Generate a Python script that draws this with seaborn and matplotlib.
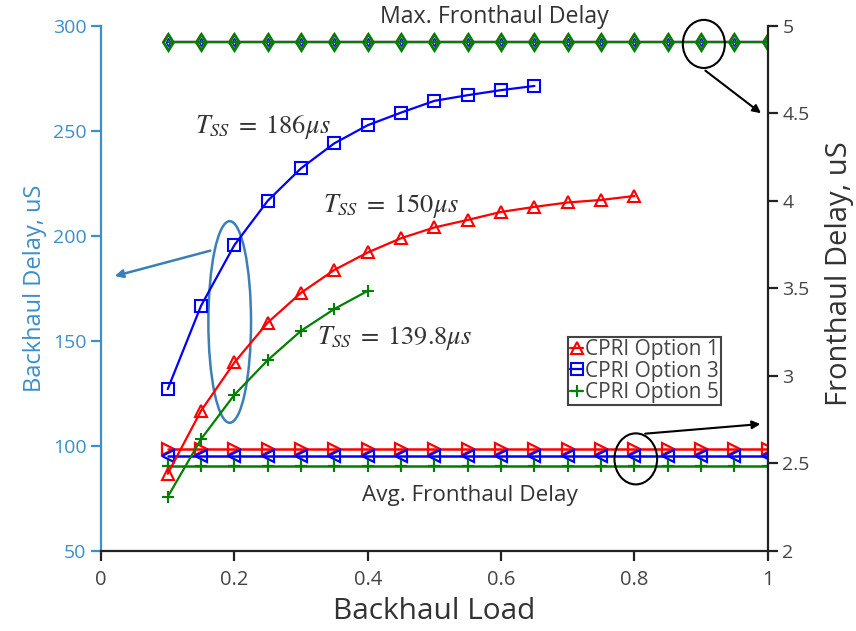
import numpy as np
import pandas as pd
import matplotlib
matplotlib.use("Agg")
import matplotlib.pyplot as plt
import seaborn as sns
from matplotlib.patches import Ellipse

# ------------------------------------------------------------
# DATA
# ------------------------------------------------------------
load_fh = [0.1, 0.15, 0.2, 0.25, 0.3, 0.35, 0.4, 0.45, 0.5, 0.55,
           0.6, 0.65, 0.7, 0.75, 0.8, 0.85, 0.9, 0.95, 1.0]

# backhaul delay curves (left axis, uS)
load_opt1 = [0.1, 0.15, 0.2, 0.25, 0.3, 0.35, 0.4, 0.45, 0.5, 0.55,
             0.6, 0.65, 0.7, 0.75, 0.8]
bh_opt1 = [86.7, 116.7, 139.7, 158.7, 172.9, 183.8, 192.1, 198.9, 204.0,
           207.6, 211.4, 213.8, 215.9, 217.1, 219.0]

load_opt3 = [0.1, 0.15, 0.2, 0.25, 0.3, 0.35, 0.4, 0.45, 0.5, 0.55, 0.6, 0.65]
bh_opt3 = [127.0, 166.7, 195.6, 216.7, 232.2, 244.1, 252.7, 258.7, 264.3,
           267.0, 269.4, 271.4]

load_opt5 = [0.1, 0.15, 0.2, 0.25, 0.3, 0.35, 0.4]
bh_opt5 = [75.7, 103.2, 124.3, 140.8, 154.8, 165.2, 173.8]

# fronthaul delay (right axis, uS)
fh_max = 4.905
fh_avg_opt1 = 2.583
fh_avg_opt3 = 2.542
fh_avg_opt5 = 2.485

series_labels = ["CPRI Option 1", "CPRI Option 3", "CPRI Option 5"]
colors = ["#ff0000", "#0000ff", "#008000"]

bh_df = pd.concat([
    pd.DataFrame({"load": load_opt1, "delay": bh_opt1, "option": series_labels[0]}),
    pd.DataFrame({"load": load_opt3, "delay": bh_opt3, "option": series_labels[1]}),
    pd.DataFrame({"load": load_opt5, "delay": bh_opt5, "option": series_labels[2]}),
])

fh_avg = [fh_avg_opt1, fh_avg_opt3, fh_avg_opt5]

# ------------------------------------------------------------
# PLOT
# ------------------------------------------------------------
sns.set_style("ticks")
plt.rcParams["font.family"] = ["Open Sans", "DejaVu Sans"]
plt.rcParams["mathtext.fontset"] = "stix"

BLUE_AX = "#3b8fcc"

fig = plt.figure(figsize=(8.56, 6.31), dpi=100)
ax = fig.add_axes([0.118, 0.127, 0.779, 0.832])
ax2 = ax.twinx()

# fronthaul lines on right axis
max_markers = [("d", 8, 1.2), ("d", 4, 1.0), ("d", 8, 2.0)]
avg_markers = [(">", 9), ("<", 9), ("+", 9)]
for i, lab in enumerate(series_labels):
    m, ms, mw = max_markers[i]
    sns.lineplot(x=load_fh, y=[fh_max] * len(load_fh), ax=ax2, color=colors[i],
                 marker=m, markersize=ms, markerfacecolor="none",
                 markeredgecolor=colors[i], markeredgewidth=mw,
                 linewidth=1.6, legend=False)
for i, lab in enumerate(series_labels):
    m, ms = avg_markers[i]
    sns.lineplot(x=load_fh, y=[fh_avg[i]] * len(load_fh), ax=ax2, color=colors[i],
                 marker=m, markersize=ms, markerfacecolor="none",
                 markeredgecolor=colors[i], markeredgewidth=1.6,
                 linewidth=1.8, legend=False)

# backhaul curves on left axis
curve_markers = ["^", "s", "+"]
for i, lab in enumerate(series_labels):
    sub = bh_df[bh_df["option"] == lab]
    sns.lineplot(data=sub, x="load", y="delay", ax=ax, color=colors[i],
                 marker=curve_markers[i], markersize=9, markerfacecolor="none",
                 markeredgecolor=colors[i], markeredgewidth=1.5,
                 linewidth=1.6, label=lab, legend=False)

ax.set_zorder(ax2.get_zorder() + 1)
ax.patch.set_visible(False)

ax.set_xlim(0, 1)
ax.set_ylim(50, 300)
ax2.set_ylim(2, 5)
ax.set_xticks([0, 0.2, 0.4, 0.6, 0.8, 1])
ax.set_xticklabels(["0", "0.2", "0.4", "0.6", "0.8", "1"])
ax.set_yticks([50, 100, 150, 200, 250, 300])
ax2.set_yticks([2, 2.5, 3, 3.5, 4, 4.5, 5])
ax2.set_yticklabels(["2", "2.5", "3", "3.5", "4", "4.5", "5"])

for a in (ax, ax2):
    a.spines["top"].set_visible(False)
ax.spines["right"].set_visible(False)
ax2.spines["left"].set_visible(False)
ax2.spines["bottom"].set_visible(False)
ax.spines["left"].set_color(BLUE_AX)
ax.spines["left"].set_linewidth(1.6)
ax.spines["bottom"].set_color("#222222")
ax.spines["bottom"].set_linewidth(1.6)
ax2.spines["right"].set_color("#222222")
ax2.spines["right"].set_linewidth(1.6)

ax.tick_params(axis="y", colors=BLUE_AX, labelsize=14, width=1.6, length=7,
               direction="out")
ax.tick_params(axis="x", colors="#222222", labelcolor="#444444", labelsize=14.5,
               width=1.6, length=7, direction="out", pad=7)
ax2.tick_params(axis="y", colors="#222222", labelcolor="#444444", labelsize=14,
                width=1.6, length=7, direction="out")

ax.set_xlabel("Backhaul Load", fontsize=21.5, color="#333333", labelpad=5)
ax.set_ylabel("Backhaul Delay, uS", fontsize=17, color=BLUE_AX, labelpad=4)
ax2.set_ylabel("Fronthaul Delay, uS", fontsize=21, color="#333333")
ax2.yaxis.set_label_coords(1.086, 0.529)

# legend
handles, labels = ax.get_legend_handles_labels()
leg = ax.legend(handles, labels, loc="upper left", bbox_to_anchor=(0.700, 0.408),
                fontsize=15, handlelength=0.6, handletextpad=0.1,
                borderpad=0.12, labelspacing=0.02, borderaxespad=0,
                fancybox=False, framealpha=1, edgecolor="#444444",
                labelcolor="#444444")
leg.get_frame().set_linewidth(1.5)

# text annotations
ax.text(0.59, 304, "Max. Fronthaul Delay", ha="center", va="center",
        fontsize=16.7, color="#333333", clip_on=False)
ax.text(0.553, 76.2, "Avg. Fronthaul Delay", ha="center", va="center",
        fontsize=16.2, color="#333333")
ax.text(0.141, 252, r"$T_{SS}\;=\;186\mu s$", fontsize=19, color="#333333",
        va="center")
ax.text(0.333, 214.3, r"$T_{SS}\;=\;150\mu s$", fontsize=19, color="#333333",
        va="center")
ax.text(0.324, 151.4, r"$T_{SS}\;=\;139.8\mu s$", fontsize=19, color="#333333",
        va="center")

# ellipses and arrows
ax.add_patch(Ellipse((0.193, 159), 0.064, 96, fill=False,
                     edgecolor="#3a80b8", linewidth=1.8))
ax.annotate("", xy=(0.0165, 180.5), xytext=(0.168, 193.3),
            arrowprops=dict(arrowstyle="-|>", color="#3a80b8", lw=1.8,
                            mutation_scale=12))
ax.add_patch(Ellipse((0.904, 291.4), 0.063, 22.9, fill=False,
                     edgecolor="black", linewidth=1.5, clip_on=False))
ax.annotate("", xy=(0.993, 257.6), xytext=(0.903, 279.5),
            arrowprops=dict(arrowstyle="-|>", color="black", lw=1.5,
                            mutation_scale=12))
ax.add_patch(Ellipse((0.802, 93.8), 0.064, 24.3, fill=False,
                     edgecolor="black", linewidth=1.5))
ax.annotate("", xy=(0.993, 110.5), xytext=(0.812, 105.7),
            arrowprops=dict(arrowstyle="-|>", color="black", lw=1.5,
                            mutation_scale=12))

fig.savefig("out.png", dpi=100)
